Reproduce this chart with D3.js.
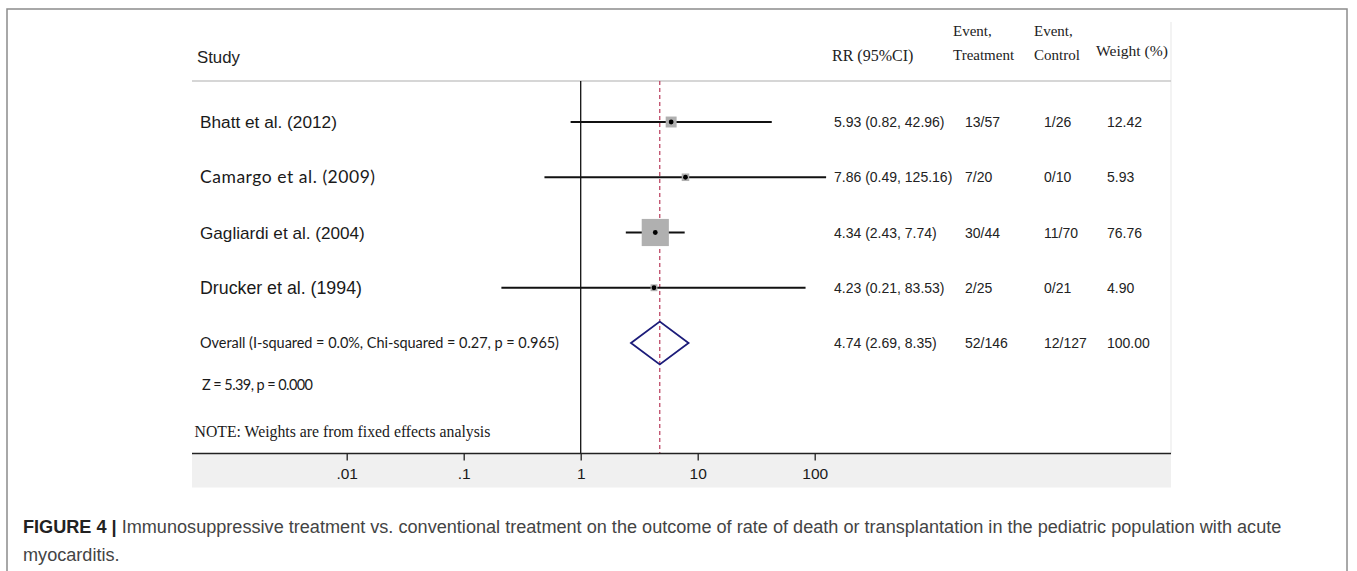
<!DOCTYPE html>
<html>
<head>
<meta charset="utf-8">
<script src="https://cdn.jsdelivr.net/npm/d3@7/dist/d3.min.js"></script>
<style>
  html, body { margin: 0; padding: 0; background: #fff; }
  svg { display: block; }
</style>
</head>
<body>
<svg id="chart" width="1357" height="571"></svg>
<script>
// ---------------- DATA ----------------
const studies = ["Bhatt et al. (2012)", "Camargo et al.  (2009)", "Gagliardi et al. (2004)", "Drucker et al. (1994)"];
const studyFonts = ["sans", "calibri", "sans", "sans"];
const rr = [5.93, 7.86, 4.34, 4.23];
const ciLow = [0.82, 0.49, 2.43, 0.21];
const ciHigh = [42.96, 125.16, 7.74, 83.53];
const eventsTreatment = ["13/57", "7/20", "30/44", "2/25"];
const eventsControl = ["1/26", "0/10", "11/70", "0/21"];
const weights = [12.42, 5.93, 76.76, 4.90];
const overallRR = 4.74, overallLow = 2.69, overallHigh = 8.35;
const overallEventsT = "52/146", overallEventsC = "12/127", overallWeight = 100.00;
const overallLabel = "Overall (I-squared = 0.0%, Chi-squared = 0.27, p = 0.965)";
const zLabel = "Z = 5.39, p = 0.000";
const noteLabel = "NOTE: Weights are from fixed effects analysis";
const tickValues = [0.01, 0.1, 1, 10, 100];
const tickLabels = [".01", ".1", "1", "10", "100"];
const headers = { study: "Study", rr: "RR (95%CI)", evT: ["Event,", "Treatment"], evC: ["Event,", "Control"], weight: "Weight (%)" };
const captionBold = "FIGURE 4 |";
const captionLine1 = " Immunosuppressive treatment vs. conventional treatment on the outcome of rate of death or transplantation in the pediatric population with acute";
const captionLine2 = "myocarditis.";

// ---------------- LAYOUT ----------------
const SANS = "Arial, 'Liberation Sans', sans-serif";
const SERIF = "'Times New Roman', 'Liberation Serif', serif";
const CALIBRI = "Lato, 'Open Sans', sans-serif";
const svg = d3.select("#chart");

const fmt2 = d3.format(".2f");
const ciText = (m, l, h) => `${fmt2(m)} (${fmt2(l)}, ${fmt2(h)})`;

const x = d3.scaleLog().domain([0.01, 100]).range([346.7, 814.7]);
const rowKeys = [0, 1, 2, 3, 4];
const y = d3.scalePoint().domain(rowKeys).range([122, 343]);
const side = d3.scaleSqrt().domain([0, 100]).range([0, 31]);

const plotLeft = 192, plotRight = 1171, headerLineY = 81, axisY = 453.5;
const colRR = 834, colT = 965, colC = 1044, colW = 1107;

function fit(sel, w) {
  const len = sel.node().getComputedTextLength();
  const fs = parseFloat(sel.attr("font-size"));
  sel.attr("font-size", fs * w / len);
  return sel;
}
function fitSpacing(sel, w) {
  const node = sel.node();
  const len = node.getComputedTextLength();
  const n = Math.max(1, node.getNumberOfChars() - 1);
  sel.attr("letter-spacing", (w - len) / n);
  return sel;
}

// outer frame
svg.append("rect").attr("x", 7).attr("y", 9).attr("width", 1340).attr("height", 620)
  .attr("fill", "none").attr("stroke", "#8c8c8c").attr("stroke-width", 1.5);

// faint right edge of embedded plot
svg.append("line").attr("x1", plotRight).attr("x2", plotRight).attr("y1", 22).attr("y2", axisY)
  .attr("stroke", "#ebebeb").attr("stroke-width", 1.2);

// gray axis band
svg.append("rect").attr("x", plotLeft).attr("y", axisY).attr("width", plotRight - plotLeft).attr("height", 34)
  .attr("fill", "#f0f0f0");

// header line
svg.append("line").attr("x1", plotLeft).attr("x2", plotRight).attr("y1", headerLineY).attr("y2", headerLineY)
  .attr("stroke", "#c9c9c9").attr("stroke-width", 1.5);

// headers
fit(svg.append("text").attr("x", 197).attr("y", 63).attr("font-family", SANS).attr("font-size", 16)
  .attr("fill", "#222").text(headers.study), 43);
fit(svg.append("text").attr("x", 832).attr("y", 61).attr("font-family", SERIF).attr("font-size", 15.5)
  .attr("fill", "#222").text(headers.rr), 81.5);
[[953, headers.evT], [1034, headers.evC]].forEach(([hx, lines]) => {
  svg.append("text").attr("x", hx).attr("y", 36).attr("font-family", SERIF).attr("font-size", 15)
    .attr("fill", "#222").text(lines[0]);
  svg.append("text").attr("x", hx).attr("y", 60).attr("font-family", SERIF).attr("font-size", 15)
    .attr("fill", "#222").text(lines[1]);
});
fit(svg.append("text").attr("x", 1096).attr("y", 56).attr("font-family", SERIF).attr("font-size", 15)
  .attr("fill", "#222").text(headers.weight), 72);

// reference line at 1
svg.append("line").attr("x1", x(1)).attr("x2", x(1)).attr("y1", headerLineY).attr("y2", axisY)
  .attr("stroke", "#111").attr("stroke-width", 1.3);

// overall dashed line
svg.append("line").attr("x1", x(overallRR)).attr("x2", x(overallRR)).attr("y1", headerLineY).attr("y2", axisY)
  .attr("stroke", "#b83a5a").attr("stroke-width", 1.2).attr("stroke-dasharray", "4,3");

// study rows
const studyWidths = [137, 175, 165, 162];
studies.forEach((s, i) => {
  const cy = y(i);
  const calibri = studyFonts[i] === "calibri";
  const t = svg.append("text").attr("x", 200).attr("y", cy + 6)
    .attr("font-family", calibri ? CALIBRI : SANS)
    .attr("font-size", calibri ? 17.5 : 17).attr("fill", "#1a1a1a").text(s);
  if (calibri) fitSpacing(t, studyWidths[i]); else fit(t, studyWidths[i]);
  // CI line
  svg.append("line").attr("x1", x(ciLow[i])).attr("x2", x(ciHigh[i])).attr("y1", cy).attr("y2", cy)
    .attr("stroke", "#111").attr("stroke-width", 1.8);
  // weight square
  const sz = side(weights[i]);
  svg.append("rect").attr("x", x(rr[i]) - sz / 2).attr("y", cy - sz / 2).attr("width", sz).attr("height", sz)
    .attr("fill", "#b0b0b0");
  // point
  svg.append("circle").attr("cx", x(rr[i])).attr("cy", cy).attr("r", 2.4).attr("fill", "#000");
  // columns
  const g = svg.append("g").attr("font-family", SANS).attr("font-size", 14).attr("fill", "#222");
  g.append("text").attr("x", colRR).attr("y", cy + 5).text(ciText(rr[i], ciLow[i], ciHigh[i]));
  g.append("text").attr("x", colT).attr("y", cy + 5).text(eventsTreatment[i]);
  g.append("text").attr("x", colC).attr("y", cy + 5).text(eventsControl[i]);
  g.append("text").attr("x", colW).attr("y", cy + 5).text(fmt2(weights[i]));
});

// overall row
const oy = y(4);
fitSpacing(svg.append("text").attr("x", 200).attr("y", oy + 5).attr("font-family", CALIBRI).attr("font-size", 14.5)
  .attr("fill", "#1a1a1a").text(overallLabel), 359);
const dh = 21.5;
const diamond = [[x(overallLow), oy], [x(overallRR), oy - dh], [x(overallHigh), oy], [x(overallRR), oy + dh]];
svg.append("path").attr("d", d3.line()(diamond) + "Z").attr("fill", "none")
  .attr("stroke", "#1c1c7a").attr("stroke-width", 1.8).attr("stroke-linejoin", "miter");
{
  const g = svg.append("g").attr("font-family", SANS).attr("font-size", 14).attr("fill", "#222");
  g.append("text").attr("x", colRR).attr("y", oy + 5).text(ciText(overallRR, overallLow, overallHigh));
  g.append("text").attr("x", colT).attr("y", oy + 5).text(overallEventsT);
  g.append("text").attr("x", colC).attr("y", oy + 5).text(overallEventsC);
  g.append("text").attr("x", colW).attr("y", oy + 5).text(fmt2(overallWeight));
}

// Z line and note
fitSpacing(svg.append("text").attr("x", 202).attr("y", 390).attr("font-family", CALIBRI).attr("font-size", 14.5)
  .attr("fill", "#1a1a1a").text(zLabel), 111);
fit(svg.append("text").attr("x", 194.5).attr("y", 437).attr("font-family", SERIF).attr("font-size", 16)
  .attr("fill", "#1a1a1a").text(noteLabel), 296);

// axis
svg.append("line").attr("x1", plotLeft).attr("x2", plotRight).attr("y1", axisY).attr("y2", axisY)
  .attr("stroke", "#222").attr("stroke-width", 1.5);
const axis = d3.axisBottom(x).tickValues(tickValues)
  .tickFormat((d, i) => tickLabels[i]).tickSize(7).tickPadding(7);
const ax = svg.append("g").attr("transform", `translate(0,${axisY})`).call(axis);
ax.select(".domain").remove();
ax.selectAll(".tick line").attr("stroke", "#222").attr("stroke-width", 1.3);
ax.selectAll(".tick text").attr("font-family", SANS).attr("font-size", 15.5).attr("fill", "#1a1a1a");

// caption
const cap = svg.append("text").attr("x", 23).attr("y", 533).attr("font-family", SANS)
  .attr("font-size", 15).attr("fill", "#444");
cap.append("tspan").attr("font-weight", "bold").attr("fill", "#222").text(captionBold);
cap.append("tspan").text(captionLine1);
fit(cap, 1259);
svg.append("text").attr("x", 23).attr("y", 561).attr("font-family", SANS)
  .attr("font-size", cap.attr("font-size")).attr("fill", "#444").text(captionLine2);
</script>
</body>
</html>
